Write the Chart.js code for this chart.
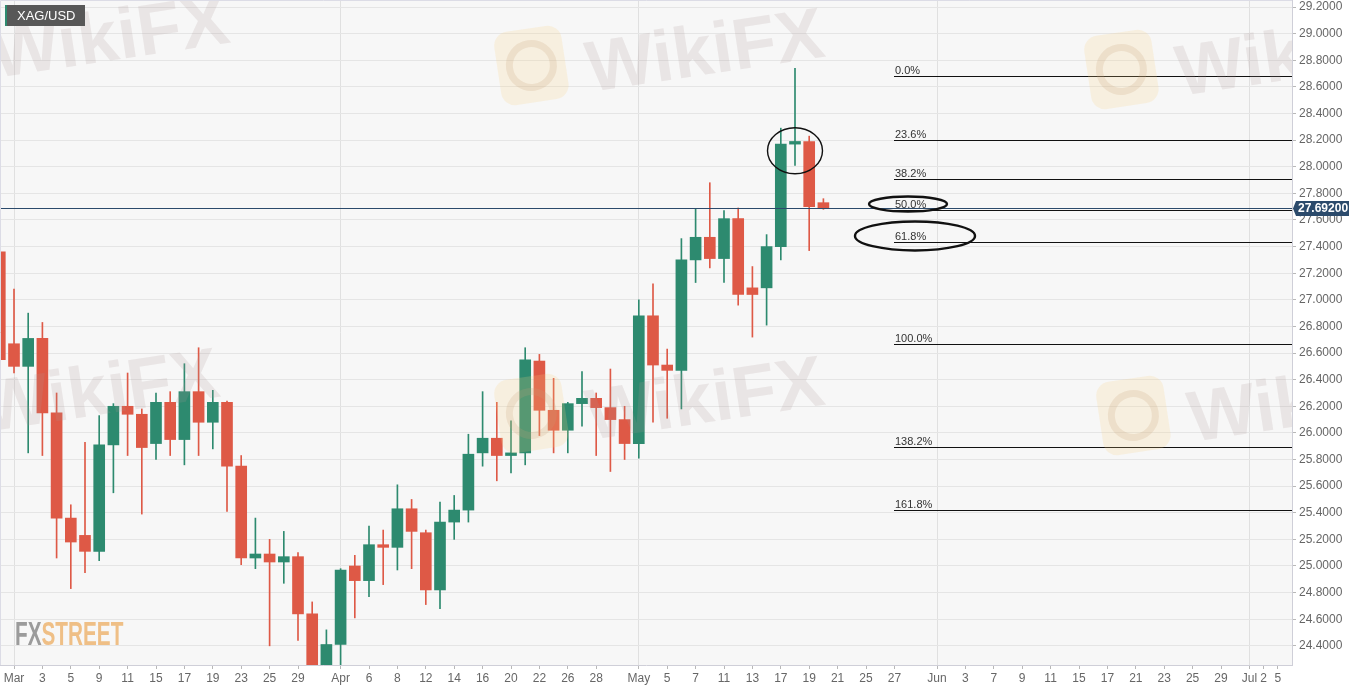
<!DOCTYPE html>
<html>
<head>
<meta charset="utf-8">
<title>XAG/USD</title>
<style>
  html, body { margin: 0; padding: 0; background: #ffffff; }
  #wrap { position: relative; width: 1363px; height: 691px; }
</style>
<script src="https://cdn.jsdelivr.net/npm/chart.js@4.4.0/dist/chart.umd.min.js"></script>
</head>
<body>
<div id="wrap"><canvas id="xagChart" width="1363" height="691"></canvas></div>
<script>
// trading days on the axis (Feb 26 .. Jul 5, 2021)
const dates = [
  'Feb 26',
  'Mar 1', 'Mar 2', 'Mar 3', 'Mar 4', 'Mar 5', 'Mar 8', 'Mar 9', 'Mar 10', 'Mar 11', 'Mar 12',
  'Mar 15', 'Mar 16', 'Mar 17', 'Mar 18', 'Mar 19', 'Mar 22', 'Mar 23', 'Mar 24', 'Mar 25', 'Mar 26',
  'Mar 29', 'Mar 30', 'Mar 31',
  'Apr 1', 'Apr 5', 'Apr 6', 'Apr 7', 'Apr 8', 'Apr 9', 'Apr 12', 'Apr 13', 'Apr 14', 'Apr 15', 'Apr 16',
  'Apr 19', 'Apr 20', 'Apr 21', 'Apr 22', 'Apr 23', 'Apr 26', 'Apr 27', 'Apr 28', 'Apr 29', 'Apr 30',
  'May 3', 'May 4', 'May 5', 'May 6', 'May 7', 'May 10', 'May 11', 'May 12', 'May 13', 'May 14',
  'May 17', 'May 18', 'May 19', 'May 20', 'May 21', 'May 24', 'May 25', 'May 26', 'May 27', 'May 28', 'May 31',
  'Jun 1', 'Jun 2', 'Jun 3', 'Jun 4', 'Jun 7', 'Jun 8', 'Jun 9', 'Jun 10', 'Jun 11',
  'Jun 14', 'Jun 15', 'Jun 16', 'Jun 17', 'Jun 18', 'Jun 21', 'Jun 22', 'Jun 23', 'Jun 24', 'Jun 25',
  'Jun 28', 'Jun 29', 'Jun 30',
  'Jul 1', 'Jul 2', 'Jul 5'
];

// daily candles, Feb 26 .. May 20
const opens  = [27.36, 26.67, 26.50, 26.71, 26.15, 25.36, 25.23, 25.11, 25.91, 26.20, 26.14, 25.92, 26.23, 25.95, 26.31,
                26.08, 26.23, 25.75, 25.06, 25.09, 25.03, 25.07, 24.64, 24.16, 24.41, 25.00, 24.89, 25.16, 25.14, 25.43,
                25.25, 24.82, 25.33, 25.42, 25.85, 25.96, 25.83, 25.85, 26.54, 26.17, 26.02, 26.22, 26.26, 26.19, 26.10,
                25.92, 26.88, 26.51, 26.47, 27.30, 27.47, 27.31, 27.61, 27.09, 27.09, 27.40, 28.17, 28.19, 27.73];
const highs  = [27.60, 27.08, 26.90, 26.83, 26.30, 25.46, 25.93, 26.13, 26.22, 26.45, 26.18, 26.30, 26.31, 26.52, 26.64,
                26.32, 26.24, 25.83, 25.36, 25.20, 25.26, 25.10, 24.73, 24.52, 24.98, 25.08, 25.30, 25.27, 25.61, 25.50,
                25.27, 25.48, 25.53, 25.99, 26.31, 26.23, 26.09, 26.64, 26.59, 26.41, 26.23, 26.46, 26.30, 26.48, 26.20,
                27.00, 27.12, 26.63, 27.46, 27.68, 27.88, 27.67, 27.69, 27.25, 27.49, 28.29, 28.74, 28.23, 27.76];
const lows   = [26.15, 26.45, 25.85, 25.83, 25.06, 24.83, 24.95, 25.04, 25.55, 25.83, 25.39, 25.80, 25.83, 25.76, 25.83,
                25.88, 25.41, 25.01, 24.98, 24.40, 24.87, 24.44, 24.05, 24.05, 24.20, 24.61, 24.77, 24.86, 24.97, 24.98,
                24.71, 24.68, 25.20, 25.33, 25.75, 25.64, 25.70, 25.76, 25.98, 25.85, 25.85, 26.05, 25.83, 25.71, 25.80,
                25.81, 26.08, 26.11, 26.18, 27.13, 27.24, 27.13, 26.96, 26.72, 26.81, 27.30, 28.01, 27.37, 27.68];
const closes = [26.55, 26.50, 26.71, 26.15, 25.36, 25.18, 25.11, 25.91, 26.20, 26.14, 25.89, 26.23, 25.95, 26.31, 26.08,
                26.23, 25.75, 25.06, 25.09, 25.03, 25.07, 24.64, 24.16, 24.41, 24.97, 24.89, 25.16, 25.14, 25.43, 25.26,
                24.82, 25.33, 25.42, 25.84, 25.96, 25.83, 25.85, 26.55, 26.17, 26.02, 26.22, 26.26, 26.19, 26.10, 25.92,
                26.88, 26.51, 26.47, 27.30, 27.47, 27.31, 27.61, 27.04, 27.04, 27.40, 28.17, 28.19, 27.70, 27.692];

const lastPrice = 27.692;

// fibonacci retracement drawn on the picture
const fibLabels = ['0.0%', '23.6%', '38.2%', '50.0%', '61.8%', '100.0%', '138.2%', '161.8%'];
const fibLevels = [28.682, 28.201, 27.906, 27.674, 27.434, 26.668, 25.894, 25.421];
const fibStart = 'May 27';

// x axis ticks
const tickDates = ['Mar 1', 'Mar 3', 'Mar 5', 'Mar 9', 'Mar 11', 'Mar 15', 'Mar 17', 'Mar 19', 'Mar 23', 'Mar 25', 'Mar 29',
                   'Apr 1', 'Apr 6', 'Apr 8', 'Apr 12', 'Apr 14', 'Apr 16', 'Apr 20', 'Apr 22', 'Apr 26', 'Apr 28',
                   'May 3', 'May 5', 'May 7', 'May 11', 'May 13', 'May 17', 'May 19', 'May 21', 'May 25', 'May 27',
                   'Jun 1', 'Jun 3', 'Jun 7', 'Jun 9', 'Jun 11', 'Jun 15', 'Jun 17', 'Jun 21', 'Jun 23', 'Jun 25', 'Jun 29',
                   'Jul 1', 'Jul 2', 'Jul 5'];

const UP = '#2d8a6f';
const DOWN = '#de5946';

function isMonthStart(i) {
  if (i <= 0 || i >= dates.length) return false;
  return dates[i].split(' ')[0] !== dates[i - 1].split(' ')[0];
}
function tickText(i) {
  const parts = dates[i].split(' ');
  return isMonthStart(i) ? parts[0] : parts[1];
}

const bodyData = opens.map((o, i) => ({ x: i, y: [o, closes[i]] }));
const wickData = opens.map((o, i) => ({ x: i, y: [lows[i], highs[i]] }));
const candleColors = opens.map((o, i) => closes[i] >= o ? UP : DOWN);

function roundRect(c, x, y, w, h, r) {
  c.beginPath();
  c.moveTo(x + r, y);
  c.arcTo(x + w, y, x + w, y + h, r);
  c.arcTo(x + w, y + h, x, y + h, r);
  c.arcTo(x, y + h, x, y, r);
  c.arcTo(x, y, x + w, y, r);
  c.closePath();
}

function wikiMark(c, x, y) {
  c.save();
  c.translate(x, y);
  c.rotate(-0.15);
  roundRect(c, -88, -72, 68, 74, 14);
  c.fillStyle = 'rgba(248, 210, 130, 0.20)';
  c.fill();
  c.beginPath();
  c.arc(-54, -35, 22, 0, Math.PI * 2);
  c.strokeStyle = 'rgba(200, 160, 120, 0.20)';
  c.lineWidth = 7;
  c.stroke();
  c.font = 'bold 72px Arial';
  c.fillStyle = 'rgba(170, 150, 150, 0.18)';
  c.fillText('WikiFX', 0, 0);
  c.restore();
}

const decorations = {
  id: 'decorations',
  beforeDraw(chart) {
    const { ctx: c, chartArea: a } = chart;
    c.save();
    c.fillStyle = '#f7f7f7';
    c.fillRect(a.left, a.top, a.right - a.left, a.bottom - a.top);
    c.restore();
  },
  afterDatasetsDraw(chart) {
    const { ctx: c, chartArea: a, scales: { x, y } } = chart;
    c.save();
    // fib levels
    const fx = Math.round(x.getPixelForValue(dates.indexOf(fibStart)));
    c.strokeStyle = '#111';
    c.lineWidth = 1;
    c.fillStyle = '#333';
    c.font = '11px Arial';
    c.textBaseline = 'alphabetic';
    fibLevels.forEach((lv, i) => {
      const py = Math.round(y.getPixelForValue(lv)) + 0.5;
      c.beginPath();
      c.moveTo(fx, py);
      c.lineTo(a.right, py);
      c.stroke();
      c.fillText(fibLabels[i], fx + 1, py - 3);
    });
    // last price line
    const pp = Math.round(y.getPixelForValue(lastPrice)) + 0.5;
    c.strokeStyle = '#2b4a6b';
    c.beginPath();
    c.moveTo(a.left, pp);
    c.lineTo(a.right, pp);
    c.stroke();

    // hand drawn ellipses
    c.strokeStyle = '#111';
    c.lineWidth = 1.4;
    c.beginPath();
    c.ellipse(x.getPixelForValue(dates.indexOf('May 18')), y.getPixelForValue(28.12), 27.5, 23, 0, 0, Math.PI * 2);
    c.stroke();
    c.lineWidth = 2.4;
    c.beginPath();
    c.ellipse(fx + 14, y.getPixelForValue(27.72), 39, 7.5, 0, 0, Math.PI * 2);
    c.stroke();
    c.beginPath();
    c.ellipse(fx + 21, y.getPixelForValue(27.48), 60, 14.5, 0, 0, Math.PI * 2);
    c.stroke();

    // watermark
    c.beginPath();
    c.rect(a.left, a.top, a.right - a.left, a.bottom - a.top);
    c.clip();
    [[-5, 78], [590, 92], [1180, 96], [-15, 432], [590, 440], [1192, 442]].forEach(p => wikiMark(c, p[0], p[1]));
    c.restore();
  },
  afterDraw(chart) {
    const { ctx: c, chartArea: a, scales: { y } } = chart;
    c.save();
    // plot frame
    c.strokeStyle = '#dcdce6';
    c.lineWidth = 1;
    c.beginPath();
    c.moveTo(a.left + 0.5, a.bottom);
    c.lineTo(a.left + 0.5, a.top + 0.5);
    c.lineTo(a.right, a.top + 0.5);
    c.stroke();

    // last price tag
    const pp = Math.round(y.getPixelForValue(lastPrice));
    c.fillStyle = '#2b4a6b';
    c.beginPath();
    c.moveTo(a.right + 1, pp + 0.5);
    c.lineTo(a.right + 4, pp - 7);
    c.lineTo(a.right + 57, pp - 7);
    c.lineTo(a.right + 57, pp + 8);
    c.lineTo(a.right + 4, pp + 8);
    c.closePath();
    c.fill();
    c.fillStyle = '#ffffff';
    c.font = 'bold 12px Arial';
    c.textBaseline = 'middle';
    c.fillText(lastPrice.toFixed(5), a.right + 6, pp + 1);

    // symbol tag
    c.fillStyle = '#585858';
    c.fillRect(5, 5, 80, 21);
    c.fillStyle = UP;
    c.fillRect(5, 5, 2, 21);
    c.fillStyle = '#ffffff';
    c.font = '13px Arial';
    c.fillText('XAG/USD', 17, 16);

    // FXSTREET logo
    c.save();
    c.translate(15, 645);
    c.scale(0.61, 1);
    c.font = 'bold 34px "Liberation Sans Narrow", Arial';
    c.textBaseline = 'alphabetic';
    c.fillStyle = '#9b9b9b';
    c.fillText('FX', 0, 0);
    const w = c.measureText('FX').width;
    c.fillStyle = '#efbf86';
    c.fillText('STREET', w, 0);
    c.restore();
    c.restore();
  }
};

const ctx = document.getElementById('xagChart').getContext('2d');
const xagChart = new Chart(ctx, {
  type: 'bar',
  data: {
    datasets: [
      {
        label: 'Body',
        data: bodyData,
        backgroundColor: candleColors,
        borderWidth: 0,
        borderSkipped: false,
        barThickness: 11,
        grouped: false,
        order: 0
      },
      {
        label: 'Wick',
        data: wickData,
        backgroundColor: candleColors,
        borderWidth: 0,
        barThickness: 1,
        grouped: false,
        order: 1
      }
    ]
  },
  options: {
    responsive: false,
    animation: false,
    layout: { padding: 0 },
    plugins: {
      legend: { display: false },
      tooltip: { enabled: false }
    },
    scales: {
      x: {
        type: 'linear',
        offset: false,
        min: 0.014,
        max: 91,
        afterBuildTicks: s => { s.ticks = tickDates.map(d => ({ value: dates.indexOf(d) })); },
        afterFit: s => { s.height = 26; s.paddingLeft = 0; s.paddingRight = 0; },
        ticks: {
          autoSkip: false,
          maxRotation: 0,
          padding: 2,
          color: '#666',
          font: { family: 'Arial', size: 12 },
          callback: v => tickText(v)
        },
        grid: {
          offset: false,
          color: c => (c.tick && isMonthStart(c.tick.value)) ? '#e0e0e0' : 'rgba(0,0,0,0)',
          tickColor: '#b8b8b8',
          tickLength: 4
        },
        border: { color: '#cfcfd8' }
      },
      y: {
        position: 'right',
        min: 24.256,
        max: 29.253,
        afterFit: s => { s.width = 71; s.paddingTop = 0; s.paddingBottom = 0; },
        ticks: {
          stepSize: 0.2,
          includeBounds: false,
          padding: 3,
          color: '#666',
          font: { family: 'Arial', size: 12 },
          callback: v => v.toFixed(4)
        },
        grid: {
          color: '#e5e5e5',
          tickColor: '#b8b8b8',
          tickLength: 4
        },
        border: { color: '#cfcfd8' }
      }
    }
  },
  plugins: [decorations]
});
</script>
</body>
</html>
